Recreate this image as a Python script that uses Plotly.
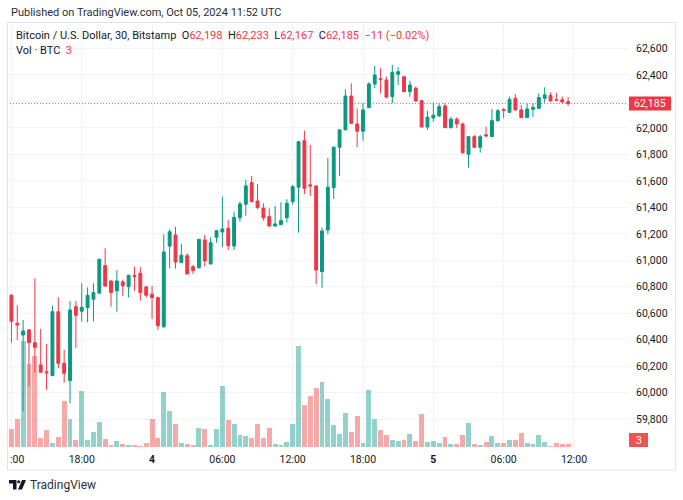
import plotly.graph_objects as go
import pandas as pd

# ---------------- data (BTC/USD, 30 min, Bitstamp) ----------------
start_time = "2024-10-03 12:00"
opens = [60736, 60525, 60436, 60474, 60378, 60210, 60158, 60129, 60612, 60222, 60091, 60650, 60615, 60643, 60706, 60752,
         60960, 60844, 60769, 60837, 60801, 60885, 60902, 60799, 60744, 60718, 60499, 61108, 61192, 60982, 61035, 60952,
         60945, 61154, 60972, 61174, 61214, 61242, 61108, 61322, 61424, 61587, 61448, 61395, 61330, 61259, 61269, 61322,
         61443, 61552, 61904, 61570, 61562, 60914, 61229, 61549, 61854, 61985, 62241, 62030, 61975, 62153, 62332, 62372,
         62362, 62236, 62405, 62387, 62274, 62300, 62206, 62007, 62075, 62090, 62166, 62002, 62066, 62030, 61801, 61934,
         61854, 61948, 61934, 62055, 62140, 62118, 62224, 62136, 62078, 62141, 62148, 62224, 62244, 62212, 62213, 62198]
highs = [60745, 60661, 60550, 60480, 60864, 60482, 60368, 60658, 60721, 60323, 60693, 60693, 60827, 60796, 60827, 61010,
         61091, 60850, 60927, 60852, 60890, 60952, 60948, 60810, 60806, 60725, 61197, 61234, 61254, 61124, 61053, 60965,
         61160, 61192, 61174, 61226, 61481, 61305, 61368, 61443, 61607, 61637, 61577, 61431, 61393, 61411, 61439, 61461,
         61570, 61900, 61979, 61871, 61565, 61247, 61775, 61860, 61992, 62292, 62337, 62148, 62186, 62345, 62468, 62451,
         62387, 62476, 62458, 62390, 62357, 62312, 62211, 62130, 62194, 62186, 62186, 62085, 62080, 62040, 61940, 61947,
         61947, 62010, 62143, 62143, 62148, 62236, 62257, 62173, 62186, 62186, 62262, 62307, 62269, 62265, 62236, 62233]
lows = [60378, 60399, 59857, 60046, 60151, 60150, 60021, 60125, 60185, 60076, 59920, 60336, 60537, 60532, 60537, 60750,
        60800, 60650, 60612, 60731, 60718, 60769, 60695, 60718, 60557, 60474, 60487, 60940, 60937, 60980, 60895, 60897,
        60935, 60952, 60970, 61133, 61099, 61078, 61078, 61292, 61337, 61440, 61386, 61300, 61255, 61254, 61265, 61284,
        61420, 61209, 61501, 61486, 60819, 60793, 61197, 61463, 61637, 61985, 62030, 61854, 61904, 62150, 62300, 62262,
        62230, 62186, 62324, 62270, 62236, 62198, 62005, 61985, 62047, 62085, 62000, 61995, 61997, 61803, 61700, 61850,
        61813, 61930, 61930, 62047, 62073, 62115, 62130, 62075, 62075, 62085, 62145, 62191, 62200, 62204, 62188, 62167]
closes = [60540, 60512, 60466, 60378, 60343, 60155, 60150, 60612, 60222, 60147, 60625, 60585, 60645, 60736, 60756, 61008,
          60806, 60756, 60844, 60809, 60887, 60877, 60756, 60736, 60718, 60506, 61063, 61216, 60988, 61038, 60897, 60922,
          61159, 60995, 61133, 61224, 61237, 61111, 61325, 61426, 61562, 61443, 61398, 61322, 61259, 61275, 61300, 61431,
          61556, 61896, 61544, 61562, 60927, 61222, 61552, 61854, 61985, 62241, 62035, 61975, 62136, 62332, 62400, 62365,
          62232, 62420, 62425, 62274, 62324, 62204, 62007, 62081, 62096, 62161, 62002, 62066, 62030, 61813, 61934, 61854,
          61934, 61940, 62055, 62130, 62132, 62216, 62136, 62078, 62143, 62156, 62229, 62249, 62204, 62209, 62196, 62185]
volumes = [18.3, 28.3, 106, 83.3, 91, 9, 17.3, 4, 10, 46, 27.7, 7.3, 55.7, 6.7, 15, 25, 8, 2.3, 6.5,
           2.7, 2, 2, 1, 4.3, 27.7, 8.7, 55.3, 36, 23.3, 4.3, 3.3, 2, 19.3, 18.3, 2, 17.7, 60.7, 27, 22.7,
           11.7, 10.7, 8.7, 23.3, 8.7, 19, 2.7, 2, 4.7, 22.7, 100.7, 42, 51, 58.7, 64.7, 48, 21.7, 13.3, 34.3,
           15.3, 31, 4, 57.3, 28.3, 17, 12.3, 7.3, 6, 6.7, 12.7, 6, 32.7, 4.7, 5.7, 4, 10, 3, 2.7, 11.7,
           24.3, 3.3, 2, 5, 11, 4, 4, 7.3, 6.7, 14, 4, 3.3, 12.3, 5, 1.3, 4, 2.7, 3]

time_tick_vals = ["2024-10-03 12:00", "2024-10-03 18:00", "2024-10-04 00:00", "2024-10-04 06:00",
                  "2024-10-04 12:00", "2024-10-04 18:00", "2024-10-05 00:00", "2024-10-05 06:00",
                  "2024-10-05 12:00"]
# the first label is clipped by the chart edge in the original: only ":00" shows
time_tick_text = ["", "18:00", "<b>4</b>", "06:00", "12:00", "18:00", "<b>5</b>", "06:00", "12:00"]
first_tick_visible = ":00"
price_ticks = [59800, 60000, 60200, 60400, 60600, 60800, 61000, 61200, 61400, 61600, 61800, 62000, 62200, 62400, 62600]
hidden_price_ticks = [62200]

title_text = "Published on TradingView.com, Oct 05, 2024 11:52 UTC"
symbol_text = "Bitcoin / U.S. Dollar, 30, Bitstamp"
vol_text = "Vol · BTC"

# ---------------- styling ----------------
UP = "#089981"
DOWN = "#F23645"
VOL_UP = "rgba(38,166,154,0.5)"
VOL_DOWN = "rgba(239,83,80,0.5)"
TXT = "#131722"
GRID = "#f0f3fa"
FONT = "Roboto"

W, H = 683, 500
L, R, T, B = 7, 55, 22, 53
PW, PH = W - L - R, H - T - B


def px_x(px):
    return (px - L) / PW


def px_y(py):
    return (H - B - py) / PH


times = pd.date_range(start_time, periods=len(opens), freq="30min")
vol_colors = [VOL_UP if c >= o else VOL_DOWN for o, c in zip(opens, closes)]

fig = go.Figure()
fig.add_trace(go.Bar(
    x=times, y=volumes, marker=dict(color=vol_colors, line=dict(width=0)),
    width=25 * 60 * 1000, yaxis="y2", hoverinfo="skip", showlegend=False))
fig.add_trace(go.Candlestick(
    x=times, open=opens, high=highs, low=lows, close=closes,
    increasing=dict(line=dict(color=UP, width=1), fillcolor=UP),
    decreasing=dict(line=dict(color=DOWN, width=1), fillcolor=DOWN),
    whiskerwidth=0, showlegend=False, yaxis="y"))

last_close = closes[-1]
change = closes[-1] - closes[-2]
pct = change / closes[-2] * 100

x_start = pd.Timestamp("2024-10-03 11:37:24")
x_end = pd.Timestamp("2024-10-05 16:36:36")

fig.update_layout(
    width=W, height=H,
    margin=dict(l=L, r=R, t=T, b=B, autoexpand=False),
    paper_bgcolor="white", plot_bgcolor="white",
    font=dict(family=FONT, color=TXT, size=11),
    bargap=0, boxgap=0.3,
    xaxis=dict(
        type="date", range=[x_start, x_end], rangeslider=dict(visible=False),
        tickvals=time_tick_vals, ticktext=time_tick_text, automargin=False,
        showgrid=True, gridcolor=GRID, gridwidth=1,
        showline=False, zeroline=False, ticks="",
        tickfont=dict(size=10.5, color=TXT, family=FONT), ticklabelstandoff=4,
    ),
    yaxis=dict(
        side="right", range=[59590, 62800], automargin=False,
        tickvals=price_ticks,
        ticktext=["" if v in hidden_price_ticks else f"{v:,}" for v in price_ticks],
        showgrid=True, gridcolor=GRID, gridwidth=1, zeroline=False, showline=False,
        ticks="", tickfont=dict(size=10.5, color=TXT, family=FONT), ticklabelstandoff=7,
    ),
    yaxis2=dict(overlaying="y", range=[0, PH], visible=False, fixedrange=True),
    hovermode=False,
)

shapes = []
# price line
shapes.append(dict(type="line", xref="paper", yref="y", x0=0, x1=1, y0=last_close, y1=last_close,
                   line=dict(color="rgba(242,54,69,0.8)", width=1, dash="1px,2px"), layer="above"))
# price label box
shapes.append(dict(type="rect", xref="paper", yref="y", x0=px_x(629), x1=px_x(671),
                   y0=last_close - 53, y1=last_close + 53, fillcolor=DOWN, line=dict(width=0), layer="above"))
# volume label box
shapes.append(dict(type="rect", xref="paper", yref="paper", x0=px_x(629), x1=px_x(648),
                   y0=px_y(447), y1=px_y(433), fillcolor="#ef5350", line=dict(width=0), layer="above"))
# outer frame
shapes.append(dict(type="rect", xref="paper", yref="paper", x0=px_x(7.5), x1=px_x(675.5),
                   y0=px_y(470), y1=px_y(22.5), line=dict(color="#e0e3eb", width=1), layer="above"))
# TradingView logo (approximate)
lx, ly = 9, 480
logo_T = (f"M {px_x(lx)} {px_y(ly)} L {px_x(lx+7.5)} {px_y(ly)} L {px_x(lx+7.5)} {px_y(ly+9.5)} "
          f"L {px_x(lx+4)} {px_y(ly+9.5)} L {px_x(lx+4)} {px_y(ly+3.5)} L {px_x(lx)} {px_y(ly+3.5)} Z")
logo_V = (f"M {px_x(lx+13)} {px_y(ly)} L {px_x(lx+17)} {px_y(ly)} L {px_x(lx+13)} {px_y(ly+9.5)} "
          f"L {px_x(lx+9)} {px_y(ly+9.5)} Z")
shapes.append(dict(type="path", xref="paper", yref="paper", path=logo_T, fillcolor=TXT, line=dict(width=0)))
shapes.append(dict(type="path", xref="paper", yref="paper", path=logo_V, fillcolor=TXT, line=dict(width=0)))
shapes.append(dict(type="circle", xref="paper", yref="paper", x0=px_x(lx+8.2), x1=px_x(lx+11.2),
                   y0=px_y(ly+3.2), y1=px_y(ly+0.2), fillcolor=TXT, line=dict(width=0)))
fig.update_layout(shapes=shapes)

red_span = lambda s: f"<span style='color:{DOWN}'>{s}</span>"
legend1 = (f"{symbol_text}  O{red_span(f'{opens[-1]:,}')}  H{red_span(f'{highs[-1]:,}')}  "
           f"L{red_span(f'{lows[-1]:,}')}  C{red_span(f'{last_close:,}')}  "
           f"{red_span(f'−{abs(change)} (−{abs(pct):.2f}%)')}")
legend2 = f"{vol_text}  {red_span(f'{volumes[-1]:g}')}"

annotations = [
    dict(text=title_text, x=px_x(9), y=px_y(12), xref="paper", yref="paper", xanchor="left", yanchor="middle",
         showarrow=False, font=dict(size=11, color="#2a2e39", family=FONT)),
    dict(text=legend1, x=px_x(14), y=px_y(35), xref="paper", yref="paper", xanchor="left", yanchor="middle",
         showarrow=False, font=dict(size=11, color=TXT, family=FONT)),
    dict(text=legend2, x=px_x(14), y=px_y(50), xref="paper", yref="paper", xanchor="left", yanchor="middle",
         showarrow=False, font=dict(size=11, color=TXT, family=FONT)),
    dict(text=f"{last_close:,}", x=px_x(650), y=last_close, xref="paper", yref="y", xanchor="center",
         yanchor="middle", showarrow=False, font=dict(size=10.5, color="white", family=FONT)),
    dict(text=f"{volumes[-1]:g}", x=px_x(638.5), y=px_y(440), xref="paper", yref="paper", xanchor="center",
         yanchor="middle", showarrow=False, font=dict(size=10.5, color="white", family=FONT)),
    dict(text=first_tick_visible, x=time_tick_vals[0], y=px_y(459), xref="x", yref="paper", xanchor="left",
         yanchor="middle", xshift=-3, showarrow=False, font=dict(size=10.5, color=TXT, family=FONT)),
    dict(text="TradingView", x=px_x(28), y=px_y(485), xref="paper", yref="paper", xanchor="left",
         yanchor="middle", showarrow=False, font=dict(size=12, color="#2a2e39", family=FONT)),
]
fig.update_layout(annotations=annotations)

fig.write_html("out.html")
